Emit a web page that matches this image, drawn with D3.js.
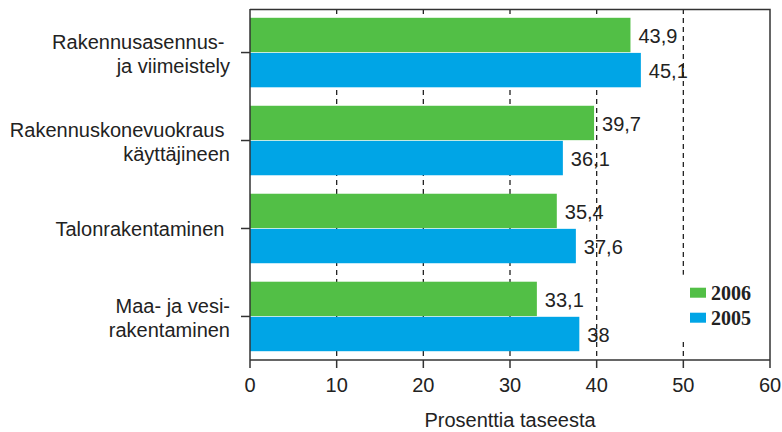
<!DOCTYPE html>
<html>
<head>
<meta charset="utf-8">
<script src="https://cdn.jsdelivr.net/npm/d3@7"></script>
<style>
  body { margin: 0; background: #fff; }
  text { font-family: "Liberation Sans", Arial, sans-serif; fill: #222; }
  .ylabel { white-space: pre; }
</style>
</head>
<body>
<div class="chart"></div>
<script>
// categories (label lines) and series values
var categories = ["Rakennusasennus- \nja viimeistely",
                  "Rakennuskonevuokraus \nkäyttäjineen",
                  "Talonrakentaminen ",
                  "Maa- ja vesi-\nrakentaminen"];
var values2006 = [43.9, 39.7, 35.4, 33.1];
var values2005 = [45.1, 36.1, 37.6, 38];
var seriesNames = ["2006", "2005"];
var seriesColors = ["#52bf46", "#00a5e6"];
var xTicks = [0, 10, 20, 30, 40, 50, 60];
var axisTitle = "Prosenttia taseesta";

var svgWidth = 782, svgHeight = 432;
var margin = { top: 9, right: 12, bottom: 72, left: 250 };
var width = svgWidth - margin.left - margin.right;
var height = svgHeight - margin.top - margin.bottom;

var svg = d3.select(".chart").append("svg")
    .attr("width", svgWidth)
    .attr("height", svgHeight);

var chartGroup = svg.append("g")
    .attr("transform", `translate(${margin.left}, ${margin.top})`);

var xScale = d3.scaleLinear().domain([0, 60]).range([0, width]);
var yScale = d3.scaleBand().domain(categories).range([0, height])
    .paddingInner(0.21).paddingOuter(0.1);
var subScale = d3.scaleBand().domain(seriesNames).range([0, yScale.bandwidth()])
    .paddingInner(0.02);

var data = [];
categories.forEach(function(c, i) {
  data.push({ cat: c, series: "2006", value: values2006[i], color: seriesColors[0] });
  data.push({ cat: c, series: "2005", value: values2005[i], color: seriesColors[1] });
});

// value labels (drawn first, gridlines cross them like in the original)
chartGroup.selectAll(".vlabel")
    .data(data).enter().append("text")
    .attr("class", "vlabel")
    .attr("x", d => xScale(d.value) + 8)
    .attr("y", d => yScale(d.cat) + subScale(d.series) + subScale.bandwidth() / 2 + 8)
    .style("font-size", "20px")
    .text(d => String(d.value).replace(".", ","));

// dashed gridlines
chartGroup.selectAll(".grid")
    .data(xTicks.slice(1, -1)).enter().append("line")
    .attr("x1", d => xScale(d)).attr("x2", d => xScale(d))
    .attr("y1", 0).attr("y2", height)
    .attr("stroke", "#222").attr("stroke-width", 1.3)
    .attr("stroke-dasharray", "5,4");

// bars
chartGroup.selectAll(".bar")
    .data(data).enter().append("rect")
    .attr("x", 0)
    .attr("y", d => yScale(d.cat) + subScale(d.series))
    .attr("width", d => xScale(d.value))
    .attr("height", subScale.bandwidth())
    .attr("fill", d => d.color);

// frame top/right
chartGroup.append("path")
    .attr("d", `M0,0.5H${width}V${height}`)
    .attr("fill", "none").attr("stroke", "#333").attr("stroke-width", 1.5);

// x axis
var xAxis = chartGroup.append("g").attr("transform", `translate(0, ${height})`);
xAxis.append("line").attr("x1", 0).attr("x2", width)
    .attr("stroke", "#333").attr("stroke-width", 1.5);
xAxis.selectAll(".tick").data(xTicks).enter().append("line")
    .attr("x1", d => xScale(d)).attr("x2", d => xScale(d))
    .attr("y1", 0).attr("y2", 8)
    .attr("stroke", "#333").attr("stroke-width", 1.5);
xAxis.selectAll(".tlabel").data(xTicks).enter().append("text")
    .attr("x", d => xScale(d)).attr("y", 32)
    .attr("text-anchor", "middle")
    .style("font-size", "20px")
    .text(d => d);

chartGroup.append("text")
    .attr("x", xScale(30)).attr("y", height + 67)
    .attr("text-anchor", "middle")
    .style("font-size", "20px")
    .text(axisTitle);

// y axis
var yAxis = chartGroup.append("g");
yAxis.append("line").attr("y1", 0).attr("y2", height)
    .attr("stroke", "#333").attr("stroke-width", 1.5);
yAxis.selectAll(".ytick").data(categories).enter().append("line")
    .attr("x1", -9).attr("x2", 0)
    .attr("y1", d => yScale(d) + yScale.bandwidth() / 2)
    .attr("y2", d => yScale(d) + yScale.bandwidth() / 2)
    .attr("stroke", "#333").attr("stroke-width", 1.5);

yAxis.selectAll(".ylabel").data(categories).enter().append("text")
    .attr("class", "ylabel")
    .attr("text-anchor", "end")
    .style("font-size", "20px")
    .each(function(d) {
      var lines = d.split("\n");
      var cy = yScale(d) + yScale.bandwidth() / 2;
      var y0 = lines.length > 1 ? cy - 3.5 : cy + 7.5;
      var t = d3.select(this);
      lines.forEach(function(line, k) {
        t.append("tspan").attr("x", -20).attr("y", y0 + k * 24).text(line);
      });
    });

// legend
var legend = chartGroup.append("g")
    .attr("transform", `translate(${xScale(49.5)}, ${yScale(categories[3]) - 7})`);
legend.append("rect").attr("width", 90).attr("height", 66).attr("fill", "#fff");
seriesNames.forEach(function(name, i) {
  legend.append("rect")
      .attr("x", 11).attr("y", 13 + i * 25)
      .attr("width", 16).attr("height", 10)
      .attr("fill", seriesColors[i]);
  legend.append("text")
      .attr("x", 32).attr("y", 25 + i * 25)
      .style("font-family", "'Liberation Serif', 'Times New Roman', serif")
      .style("font-weight", "bold")
      .style("font-size", "20px")
      .text(name);
});
</script>
</body>
</html>
